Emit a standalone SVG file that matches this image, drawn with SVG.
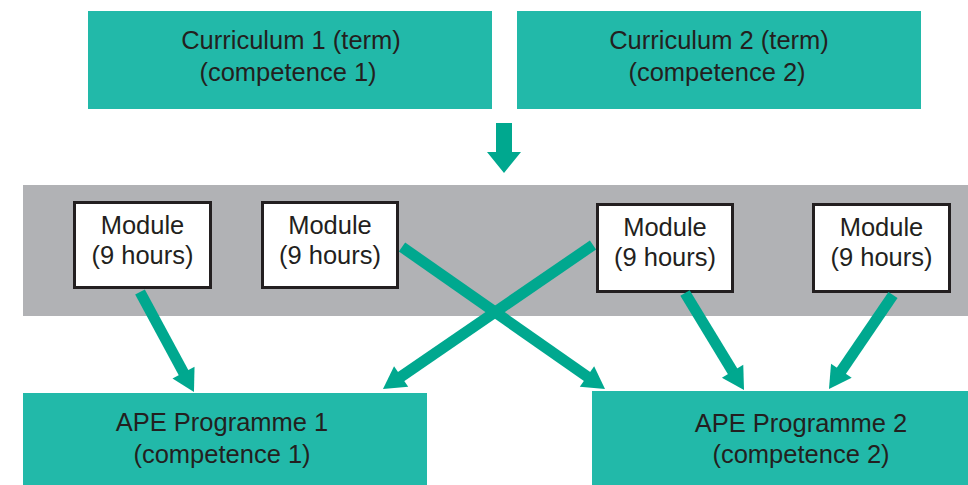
<svg xmlns="http://www.w3.org/2000/svg" width="968" height="485" viewBox="0 0 968 485">
  <style>
    .teal { fill: #22b9a9; }
    .band { fill: #b1b2b5; }
    .module { fill: #ffffff; stroke: #231f20; stroke-width: 3; }
    .label { font-family: "Liberation Sans", Arial, sans-serif; font-size: 25.5px; fill: #231f20; text-anchor: middle; }
    .conn { stroke: #00a88f; stroke-width: 11; fill: none; marker-end: url(#head); }
  </style>
  <defs>
    <marker id="head" markerUnits="userSpaceOnUse" markerWidth="24" markerHeight="26" refX="1" refY="12.5" orient="auto" overflow="visible">
      <path d="M0,0 L22,12.5 L0,25 Z" fill="#00a88f"/>
    </marker>
  </defs>

  <rect width="968" height="485" fill="#ffffff"/>

  <!-- Curricula -->
  <g id="curriculum1">
    <rect class="teal" x="88" y="11" width="404" height="98"/>
    <text class="label" x="291" y="49">Curriculum 1 (term)</text>
    <text class="label" x="288" y="81">(competence 1)</text>
  </g>
  <g id="curriculum2">
    <rect class="teal" x="517" y="11" width="404" height="98"/>
    <text class="label" x="719" y="49">Curriculum 2 (term)</text>
    <text class="label" x="717" y="81">(competence 2)</text>
  </g>

  <!-- Block arrow into the module band -->
  <polygon id="down-arrow" points="496,123 512,123 512,152 521,152 504,173 487,152 496,152" fill="#00a88f"/>

  <!-- Module band -->
  <rect id="module-band" class="band" x="23" y="185" width="945" height="131"/>

  <g id="module1">
    <rect class="module" x="74.5" y="202.5" width="136" height="85"/>
    <text class="label" x="142.5" y="234">Module</text>
    <text class="label" x="142.5" y="264">(9 hours)</text>
  </g>
  <g id="module2">
    <rect class="module" x="262.5" y="202.5" width="135" height="85"/>
    <text class="label" x="330" y="234">Module</text>
    <text class="label" x="330" y="264">(9 hours)</text>
  </g>
  <g id="module3">
    <rect class="module" x="597.5" y="204.5" width="135" height="87"/>
    <text class="label" x="665" y="236">Module</text>
    <text class="label" x="665" y="266">(9 hours)</text>
  </g>
  <g id="module4">
    <rect class="module" x="813.5" y="204.5" width="136" height="87"/>
    <text class="label" x="881.5" y="236">Module</text>
    <text class="label" x="881.5" y="266">(9 hours)</text>
  </g>

  <!-- Programmes -->
  <g id="programme1">
    <rect class="teal" x="23" y="393" width="404" height="92"/>
    <text class="label" x="222" y="431">APE Programme 1</text>
    <text class="label" x="222" y="463">(competence 1)</text>
  </g>
  <g id="programme2">
    <rect class="teal" x="592" y="391" width="376" height="94"/>
    <text class="label" x="801" y="432">APE Programme 2</text>
    <text class="label" x="801" y="463">(competence 2)</text>
  </g>

  <!-- Connectors -->
  <g id="connectors">
    <line class="conn" x1="140" y1="292" x2="184" y2="373.5"/>
    <line class="conn" x1="402" y1="247" x2="587.8" y2="377"/>
    <line class="conn" x1="593" y1="245" x2="400.3" y2="377.1"/>
    <line class="conn" x1="685" y1="293" x2="733.1" y2="372.1"/>
    <line class="conn" x1="893" y1="295" x2="840.8" y2="371.6"/>
  </g>
</svg>
